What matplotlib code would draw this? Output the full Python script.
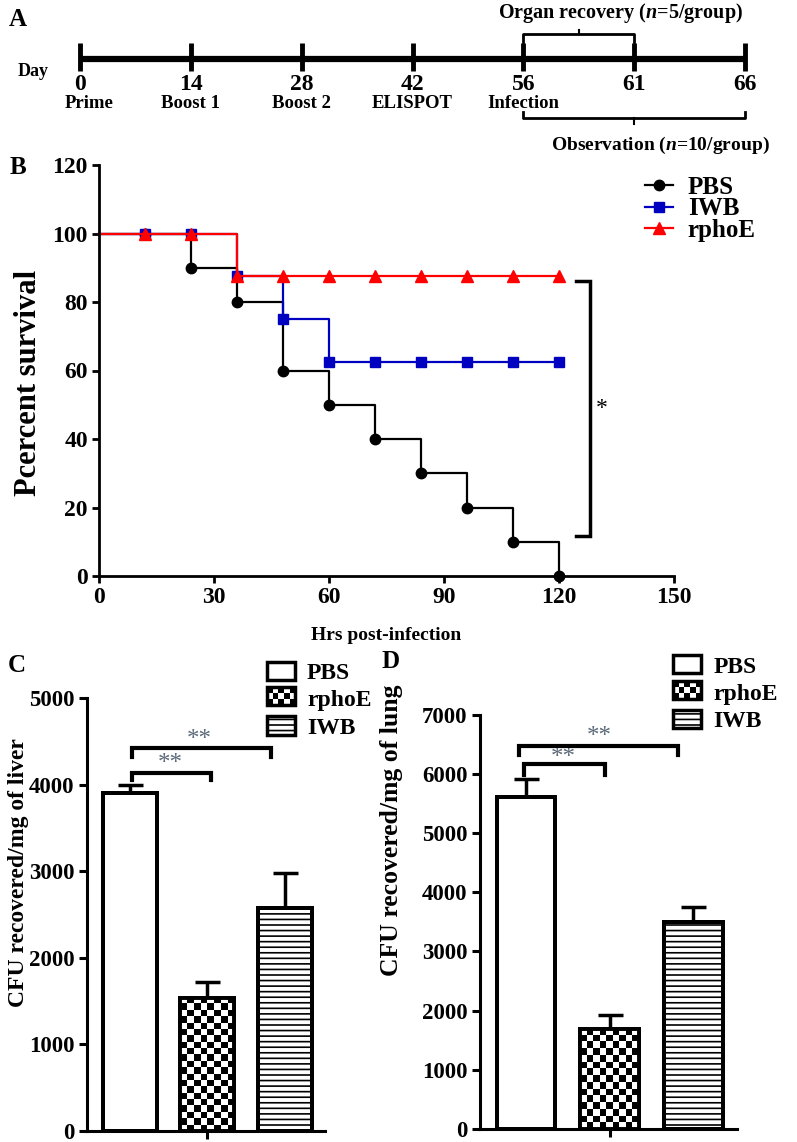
import numpy as np
import matplotlib
matplotlib.use("Agg")
import matplotlib.pyplot as plt
from matplotlib.patches import Rectangle

plt.rcParams["font.family"] = ["Liberation Serif", "DejaVu Serif"]
plt.rcParams["font.weight"] = "bold"
plt.rcParams["axes.labelweight"] = "bold"
plt.rcParams["mathtext.fontset"] = "custom"
plt.rcParams["mathtext.rm"] = "Liberation Serif:bold"
plt.rcParams["mathtext.it"] = "Liberation Serif:italic:bold"
plt.rcParams["hatch.linewidth"] = 1.2

# ---- data ----
days = ["0", "14", "28", "42", "56", "61", "66"]
events = ["Prime", "Boost 1", "Boost 2", "ELISPOT", "Infection", "", ""]

hours = [0, 12, 24, 36, 48, 60, 72, 84, 96, 108, 120]
surv_pbs = [100, 100, 90, 80, 60, 50, 40, 30, 20, 10, 0]
surv_iwb = [100, 100, 100, 87.5, 75, 62.5, 62.5, 62.5, 62.5, 62.5, 62.5]
surv_rphoe = [100, 100, 100, 87.5, 87.5, 87.5, 87.5, 87.5, 87.5, 87.5, 87.5]

groups = ["PBS", "rphoE", "IWB"]
liver_mean = [3900, 1540, 2570]
liver_err = [95, 180, 410]
lung_mean = [5600, 1690, 3500]
lung_err = [310, 230, 255]

W, H = 797, 1142


def px_axes(fig, left, top, right, bottom):
    return fig.add_axes([left / W, 1 - bottom / H, (right - left) / W, (bottom - top) / H])


def panel_a(fig):
    ax = fig.add_axes([0, 1 - 160 / H, 1, 160 / H])
    step = (745 - 80) / 6
    ax.set_xlim(-80 / step, (W - 80) / step)
    ax.set_ylim(160, 0)
    ax.axis("off")
    idx = np.arange(len(days))
    ax.plot([idx[0], idx[-1]], [59, 59], color="black", lw=4.5, solid_capstyle="butt")
    for i, d, ev in zip(idx, days, events):
        ax.plot([i, i], [43, 71], color="black", lw=3.5, solid_capstyle="butt")
        ax.text(i, 85, d, ha="center", va="center", fontsize=17)
        if ev:
            ax.text(i + (0.08 if i == 0 else 0), 104, ev, ha="center", va="center", fontsize=13.5)
    ax.text(-0.42, 72, "Day", ha="center", va="center", fontsize=13)
    # organ recovery bracket (56 -> 61)
    ax.plot([4, 4, 5, 5], [42, 34, 34, 42], color="black", lw=2)
    ax.plot([4.5, 4.5], [34, 30], color="black", lw=1.5)
    ax.text(4.88, 13, "Organ recovery ($\\mathit{n}$=5/group)", ha="center", va="center", fontsize=14.5)
    # observation bracket (56 -> 66)
    ax.plot([4, 4, 6, 6], [112, 118, 118, 112], color="black", lw=2)
    ax.plot([5, 5], [118, 124], color="black", lw=1.5)
    ax.text(5.24, 145, "Observation ($\\mathit{n}$=10/group)", ha="center", va="center", fontsize=14)
    fig.text(18 / W, 1 - 20 / H, "A", ha="center", va="center", fontsize=18)


def panel_b(fig):
    ax = px_axes(fig, 99, 165, 674, 576)
    styles = [("PBS", surv_pbs, "black", "o", 7.5),
              ("IWB", surv_iwb, "#0000c0", "s", 7.5),
              ("rphoE", surv_rphoe, "red", "^", 8)]
    for name, s, c, m, ms in styles:
        ax.plot(hours, s, drawstyle="steps-post", color=c, lw=1.6, marker=m,
                markersize=ms, markevery=slice(1, None), label=name, clip_on=False)
    ax.set_xlim(0, 150)
    ax.set_ylim(0, 120)
    ax.set_xticks(np.arange(0, 151, 30))
    ax.set_yticks(np.arange(0, 121, 20))
    for sp in ["top", "right"]:
        ax.spines[sp].set_visible(False)
    for sp in ["left", "bottom"]:
        ax.spines[sp].set_linewidth(2)
    ax.tick_params(width=2, length=5, labelsize=17, pad=3)
    ax.set_xlabel("Hrs post-infection", fontsize=14)
    ax.xaxis.set_label_coords(0.5, -0.125)
    ax.set_ylabel("Pcercent survival", fontsize=22)
    ax.yaxis.set_label_coords(-0.097, 0.47)
    # significance bracket
    ax.plot([124.5, 128, 128, 124.5], [86, 86, 11.8, 11.8], color="black", lw=2.5,
            solid_joinstyle="miter")
    ax.text(129.5, 49, "*", ha="left", va="center", fontsize=17, fontweight="normal")
    ax.legend(loc="center left", bbox_to_anchor=(0.95, 0.893), frameon=False,
              fontsize=18, handlelength=1.1, handletextpad=0.6, labelspacing=-0.05,
              borderpad=0, borderaxespad=0)
    fig.text(18 / W, 1 - 167 / H, "B", ha="center", va="center", fontsize=18)


class CheckerHandler:
    def legend_artist(self, legend, orig_handle, fontsize, handlebox):
        x0, y0 = handlebox.xdescent, handlebox.ydescent
        w, h = handlebox.width, handlebox.height
        nc, nr = 5, 3
        tr = handlebox.get_transform()
        for r in range(nr):
            for c in range(nc):
                if (r + c) % 2 == 0:
                    handlebox.add_artist(Rectangle((x0 + c * w / nc, y0 + r * h / nr), w / nc, h / nr,
                                                   facecolor="black", lw=0, transform=tr))
        box = Rectangle((x0, y0), w, h, facecolor="none", edgecolor="black", lw=2.5, transform=tr)
        handlebox.add_artist(box)
        return box


def bar_panel(fig, rect, means, errs, ymax, ylabel, brackets, stars, leg_anchor, label_xy,
              ylab_xy, ylab_size, letter):
    ax = px_axes(fig, *rect)
    x = np.arange(len(groups))
    width = 0.7
    ax.set_xlim(-0.55, 2.52)
    ax.set_ylim(0, ymax)
    ax.errorbar(x, means, yerr=[np.zeros(len(errs)), errs], fmt="none", ecolor="black",
                elinewidth=2.5, capsize=9, capthick=2.5, zorder=1)
    hatches = ["", "", "---"]
    ax.bar(x, means, width, color="white", edgecolor="black", linewidth=2.8,
           hatch=hatches, zorder=2)
    # checker fill for rphoE
    fig.canvas.draw()
    i = 1
    p0 = ax.transData.transform((x[i] - width / 2, 0))
    p1 = ax.transData.transform((x[i] + width / 2, means[i]))
    cell = 6.5
    nc = max(1, int(round((p1[0] - p0[0]) / cell)))
    nr = max(1, int(round((p1[1] - p0[1]) / cell)))
    checker = (np.add.outer(np.arange(nr), np.arange(nc)) % 2).astype(float)
    ax.imshow(checker, cmap="gray_r", vmin=0, vmax=1, interpolation="nearest", aspect="auto",
              extent=(x[i] - width / 2, x[i] + width / 2, 0, means[i]), zorder=2.5)
    ax.bar(x, means, width, facecolor="none", edgecolor="black", linewidth=2.8, zorder=3)
    ax.set_xlim(-0.55, 2.52)
    ax.set_ylim(0, ymax)
    ax.set_xticks([1])
    ax.set_xticklabels([""])
    ax.set_yticks(np.arange(0, ymax + 1, 1000))
    for sp in ["top", "right"]:
        ax.spines[sp].set_visible(False)
    for sp in ["left", "bottom"]:
        ax.spines[sp].set_linewidth(2.2)
    ax.tick_params(width=2.2, length=6, labelsize=16.5, pad=3)
    ax.set_ylabel(ylabel, fontsize=ylab_size)
    ax.yaxis.set_label_coords(*ylab_xy)
    for x0, x1, ytop, yend in brackets:
        ax.plot([x0, x0, x1, x1], [yend, ytop, ytop, yend], color="black", lw=3, clip_on=False,
                solid_joinstyle="miter", zorder=4)
    for sx, sy in stars:
        ax.text(sx, sy, "**", ha="center", va="center", fontsize=18, color="#5b6a78",
                fontweight="normal", clip_on=False)
    handles = [Rectangle((0, 0), 1, 1, facecolor="white", edgecolor="black", lw=2.5),
               Rectangle((0, 0), 1, 1, facecolor="white", edgecolor="black", lw=2.5),
               Rectangle((0, 0), 1, 1, facecolor="white", edgecolor="black", lw=2.5, hatch="---")]
    ax.legend(handles, groups, loc="center left", bbox_to_anchor=leg_anchor, frameon=False,
              fontsize=17, handlelength=1.2, handleheight=0.8, handletextpad=0.5,
              labelspacing=0.22, borderpad=0, borderaxespad=0,
              handler_map={handles[1]: CheckerHandler()})
    fig.text(label_xy[0] / W, 1 - label_xy[1] / H, letter, ha="center", va="center", fontsize=18)
    return ax


def main():
    fig = plt.figure(figsize=(W / 100, H / 100), dpi=100)
    panel_a(fig)
    panel_b(fig)
    bar_panel(fig, (87, 698, 325, 1131), liver_mean, liver_err, 5000,
              "CFU recovered/mg of liver",
              brackets=[(0.03, 1.05, 4137, 4050), (0.03, 1.82, 4420, 4320)],
              stars=[(0.52, 4240), (0.9, 4517)],
              leg_anchor=(0.756, 0.995), label_xy=(17, 665),
              ylab_xy=(-0.245, 0.596), ylab_size=17, letter="C")
    bar_panel(fig, (480, 714.6, 737, 1129), lung_mean, lung_err, 7000,
              "CFU recovered/mg of lung",
              brackets=[(-0.02, 0.94, 6162, 5982), (-0.08, 1.82, 6472, 6320)],
              stars=[(0.44, 6270), (0.88, 6630)],
              leg_anchor=(0.751, 1.05), label_xy=(391, 661),
              ylab_xy=(-0.30, 0.72), ylab_size=18.5, letter="D")
    fig.savefig("out.png", dpi=100)


if __name__ == "__main__":
    main()
